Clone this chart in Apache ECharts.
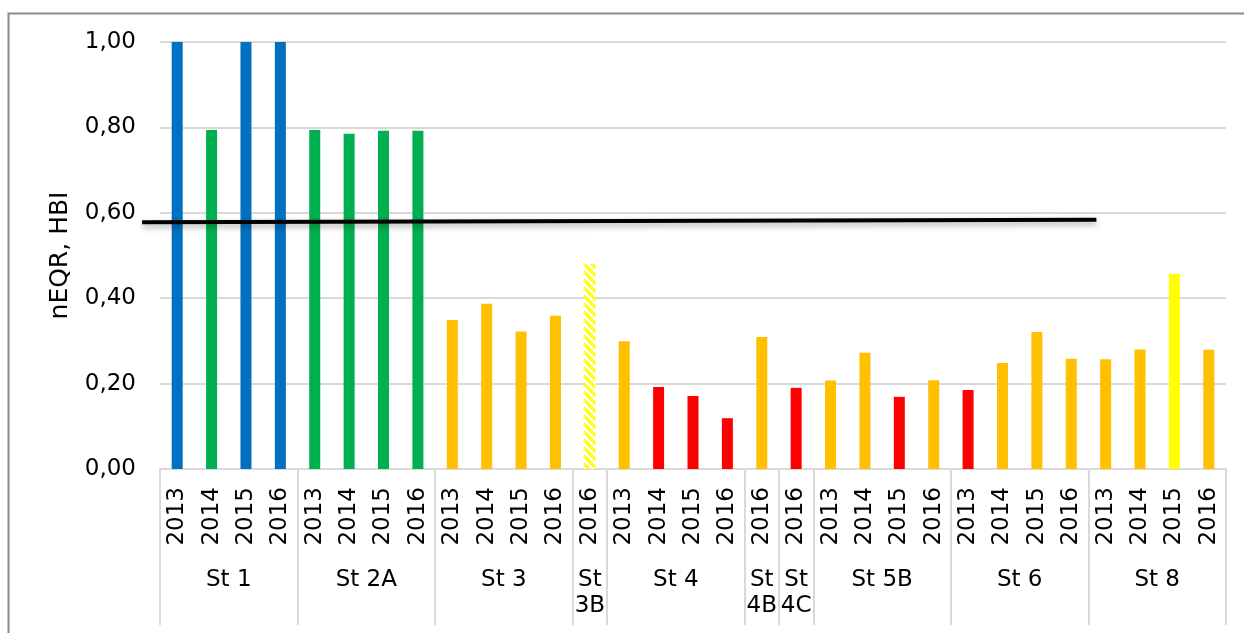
<!DOCTYPE html>
<html>
<head>
<meta charset="utf-8">
<script src="https://cdn.jsdelivr.net/npm/echarts@6/dist/echarts.min.js"></script>
<style>
  html, body { margin: 0; padding: 0; background: #fff; }
  #chart { width: 1244px; height: 633px; }
</style>
</head>
<body>
<div id="chart"></div>
<script>
// year of each bar
var years = ['2013','2014','2015','2016', '2013','2014','2015','2016', '2013','2014','2015','2016', '2016',
  '2013','2014','2015','2016', '2016', '2016', '2013','2014','2015','2016', '2013','2014','2015','2016',
  '2013','2014','2015','2016'];
// stations (lower axis row) and number of bars in each
var groupNames = ['St 1', 'St 2A', 'St 3', 'St\n3B', 'St 4', 'St\n4B', 'St\n4C', 'St 5B', 'St 6', 'St 8'];
var groupSizes = [4, 4, 4, 1, 4, 1, 1, 4, 4, 4];
// nEQR / HBI values
var values = [1.00, 0.794, 1.00, 1.00,
  0.794, 0.785, 0.792, 0.792,
  0.349, 0.387, 0.322, 0.359,
  0.480,
  0.299, 0.192, 0.171, 0.119,
  0.309,
  0.190,
  0.207, 0.272, 0.169, 0.208,
  0.185, 0.248, 0.321, 0.258,
  0.257, 0.280, 0.457, 0.279];
// status class of each bar (H high, G good, M moderate, P poor, B bad, MX moderate hatched)
var barClass = ['H','G','H','H', 'G','G','G','G', 'P','P','P','P', 'MX',
  'P','B','B','B', 'P', 'B', 'P','P','B','P', 'B','P','P','P', 'P','P','M','P'];
var yTicks = [0, 0.2, 0.4, 0.6, 0.8, 1.0];
// boundary line (x in bar units, y value)
var limitX = [-0.52, 27.23];
var limitY = [0.578, 0.584];

var FONT = 'DejaVu Sans';
var GRID_L = 160, GRID_R = 18, LINE_L = 142;

// hatched fill for the uncertain bar
function hatch() {
  var c = document.createElement('canvas');
  c.width = 8; c.height = 8;
  var g = c.getContext('2d');
  g.fillStyle = '#fff';
  g.fillRect(0, 0, 8, 8);
  g.strokeStyle = '#FFFF00';
  g.lineWidth = 3.2;
  g.beginPath();
  g.moveTo(-2, -2); g.lineTo(10, 10);
  g.moveTo(-2, 6); g.lineTo(2, 10);
  g.moveTo(6, -2); g.lineTo(10, 2);
  g.stroke();
  return c;
}

var colors = { H: '#0070C0', G: '#00B050', M: '#FFFF00', P: '#FFC000', B: '#FF0000' };
var barData = [];
for (var i = 0; i < values.length; i++) {
  var col = barClass[i] == 'MX' ? { image: hatch(), repeat: 'repeat' } : colors[barClass[i]];
  barData.push({ value: values[i], itemStyle: { color: col } });
}

// lower row: half-step category axis so labels can sit at group centres
var halfCats = [];
var bounds = [0];
var pos = 0;
for (var k = 0; k <= years.length * 2; k++) halfCats.push('');
for (var j = 0; j < groupSizes.length; j++) {
  halfCats[pos * 2 + groupSizes[j]] = groupNames[j];
  pos += groupSizes[j];
  bounds.push(pos * 2);
}

// the boundary line runs a bit left of the plot, so it gets its own wider grid
var step = (1244 - GRID_R - GRID_L) / years.length;
var lineMin = -(GRID_L - LINE_L) / step;

var chart = echarts.init(document.getElementById('chart'));
var option = {
  animation: false,
  textStyle: { fontFamily: FONT },
  graphic: [{
    type: 'rect',
    shape: { x: 8.5, y: 13.5, width: 1400, height: 800 },
    style: { fill: 'none', stroke: '#8c8c8c', lineWidth: 2 },
    silent: true
  }],
  grid: [
    { left: GRID_L, right: GRID_R, top: 42, bottom: 164 },
    { left: LINE_L, right: GRID_R, top: 42, bottom: 164 }
  ],
  xAxis: [{
    type: 'category',
    gridIndex: 0,
    data: years,
    position: 'bottom',
    axisLine: { show: true, lineStyle: { color: '#D9D9D9', width: 2 } },
    axisTick: { show: false },
    axisLabel: { interval: 0, rotate: 90, margin: 18, fontSize: 23, color: '#000', fontFamily: FONT }
  }, {
    type: 'category',
    gridIndex: 0,
    data: halfCats,
    boundaryGap: false,
    position: 'bottom',
    axisLine: { show: false },
    axisTick: {
      show: true, length: 156,
      interval: function(idx) { return bounds.indexOf(idx) != -1; },
      lineStyle: { color: '#D9D9D9', width: 2 }
    },
    axisLabel: {
      interval: 0, margin: 98, fontSize: 23, color: '#000', fontFamily: FONT,
      verticalAlign: 'top', lineHeight: 26
    }
  }, {
    type: 'value', gridIndex: 1, min: lineMin, max: years.length, show: false
  }],
  yAxis: [{
    type: 'value', gridIndex: 0, min: 0, max: 1, interval: 0.2,
    name: 'nEQR, HBI', nameLocation: 'middle', nameRotate: 90, nameGap: 87,
    nameTextStyle: { fontSize: 25, color: '#000', fontFamily: FONT },
    axisLine: { show: false },
    axisTick: { show: false },
    axisLabel: {
      margin: 24, fontSize: 23, color: '#000', fontFamily: FONT,
      formatter: function(v) { return v.toFixed(2).replace('.', ','); }
    },
    splitLine: { lineStyle: { color: '#D9D9D9', width: 2 } }
  }, {
    type: 'value', gridIndex: 1, min: 0, max: 1, show: false
  }],
  series: [{
    type: 'bar',
    xAxisIndex: 0,
    yAxisIndex: 0,
    data: barData,
    barWidth: 11
  }, {
    type: 'line',
    xAxisIndex: 2,
    yAxisIndex: 1,
    clip: false,
    symbol: 'none',
    data: [[limitX[0], limitY[0]], [limitX[1], limitY[1]]],
    lineStyle: {
      color: '#000', width: 4, cap: 'butt',
      shadowColor: 'rgba(0,0,0,0.35)', shadowBlur: 6, shadowOffsetY: 3
    },
    z: 5
  }]
};
chart.setOption(option);
</script>
</body>
</html>
